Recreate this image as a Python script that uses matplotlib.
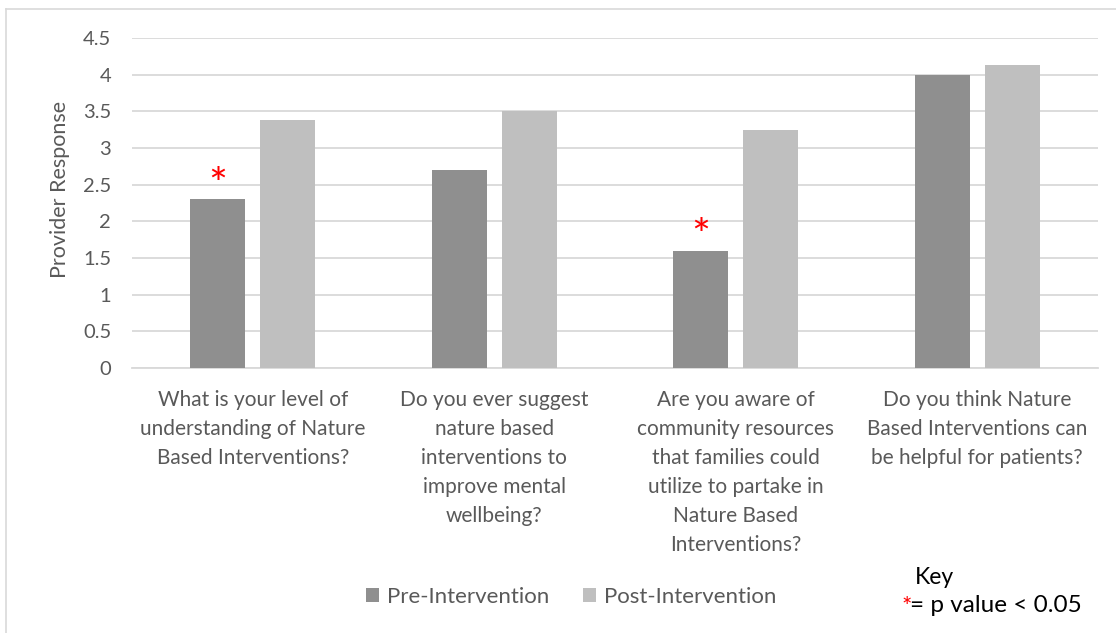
import matplotlib.pyplot as plt
import numpy as np
from matplotlib.lines import Line2D

plt.rcParams['font.family'] = ['Lato', 'DejaVu Sans']

questions = [
    "What is your level of\nunderstanding of Nature\nBased Interventions?",
    "Do you ever suggest\nnature based\ninterventions to\nimprove mental\nwellbeing?",
    "Are you aware of\ncommunity resources\nthat families could\nutilize to partake in\nNature Based\nInterventions?",
    "Do you think Nature\nBased Interventions can\nbe helpful for patients?",
]
pre_values = [2.3, 2.7, 1.6, 4.0]
post_values = [3.38, 3.5, 3.25, 4.13]
significant = [True, False, True, False]

PRE_COLOR = "#8f8f8f"
POST_COLOR = "#bfbfbf"
TEXT_COLOR = "#595959"

W, H = 1116, 633
fig = plt.figure(figsize=(W / 100, H / 100), dpi=100)
ax = fig.add_axes([132 / W, 265 / H, (1098 - 132) / W, (368 - 38) / H])

x = np.arange(len(questions))
width = 0.228
offset = 0.145
ax.bar(x - offset, pre_values, width, color=PRE_COLOR, label="Pre-Intervention", zorder=3)
ax.bar(x + offset, post_values, width, color=POST_COLOR, label="Post-Intervention", zorder=3)

# significance markers above the pre-intervention bars
for xi, val, sig in zip(x, pre_values, significant):
    if sig:
        ax.text(xi - offset, val - 0.1, "*", color="red", fontsize=32,
                ha="center", va="bottom", zorder=4)

ax.set_xlim(-0.5, len(questions) - 0.5)
ax.set_ylim(0, 4.5)
ax.set_yticks(np.arange(0, 4.51, 0.5))
ax.set_yticklabels(["0", "0.5", "1", "1.5", "2", "2.5", "3", "3.5", "4", "4.5"])
ax.yaxis.grid(True, color="#d9d9d9", linewidth=1.3, zorder=0)
ax.set_axisbelow(True)
for side in ["top", "right", "left"]:
    ax.spines[side].set_visible(False)
ax.spines["bottom"].set_color("#d9d9d9")
ax.spines["bottom"].set_linewidth(1.3)
ax.tick_params(axis="y", length=0, pad=15, labelsize=14.5, labelcolor=TEXT_COLOR)
ax.tick_params(axis="x", length=0, pad=16, labelsize=15, labelcolor=TEXT_COLOR)
ax.set_xticks(x)
ax.set_xticklabels(questions, linespacing=1.56, va="top")
ax.set_ylabel("Provider Response", fontsize=15.5, color=TEXT_COLOR, va="center")
ax.yaxis.set_label_coords((60 - 132) / 966, (368 - 189) / 330)

ax.legend(loc="center", bbox_to_anchor=(571 / W, 1 - 597 / H),
          bbox_transform=fig.transFigure, ncol=2, frameon=False,
          fontsize=16, labelcolor=TEXT_COLOR, handlelength=0.6, handleheight=0.6,
          handletextpad=0.35, columnspacing=1.5)

# key for the significance marker
fig.text(915 / W, 1 - 577 / H, "Key", fontsize=16.5, color="black", va="center")
fig.text(912 / W, 1 - 606 / H, "*", fontsize=17.5, color="red", ha="right", va="center")
fig.text(910 / W, 1 - 606 / H, "= p value < 0.05", fontsize=17.5, color="black", va="center")

# chart frame
fig.add_artist(Line2D([6 / W, 1], [1 - 9 / H, 1 - 9 / H], color="#d9d9d9", linewidth=1.2))
fig.add_artist(Line2D([6 / W, 6 / W], [0, 1 - 9 / H], color="#d9d9d9", linewidth=1.2))

fig.savefig("out.png", dpi=100)
